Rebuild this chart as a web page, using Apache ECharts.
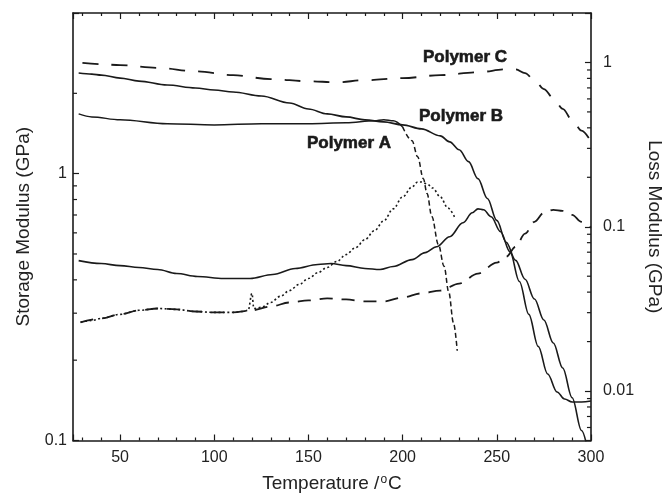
<!DOCTYPE html>
<html><head><meta charset="utf-8">
<script src="https://cdn.jsdelivr.net/npm/echarts@6/dist/echarts.min.js"></script>
<style>html,body{margin:0;padding:0;background:#fff}#c{width:672px;height:498px}</style>
</head><body><div id="c"></div>
<script>
// ---- axes ----
const xRange = [25, 300];
const leftRange = [0.1, 4];
const rightRange = [0.005, 2];
const leftMinorTicks = [0.2, 0.3, 0.4, 0.5, 0.6, 0.7, 0.8, 0.9, 2];
const rightMinorTicks = [0.006, 0.007, 0.008, 0.009, 0.02, 0.03, 0.04, 0.05, 0.06, 0.07, 0.08, 0.09,
                         0.2, 0.3, 0.4, 0.5, 0.6, 0.7, 0.8, 0.9];

// ---- Storage modulus (GPa, left axis) ----
const cStorageT = [30,40,50,70,90,110,130,150,165,180,200,220,240,255,260,265,270,275,280,285,290,295,300];
const cStorage  = [2.60,2.57,2.55,2.49,2.42,2.34,2.26,2.22,2.20,2.24,2.28,2.34,2.40,2.46,2.46,2.38,2.24,2.075,1.92,1.75,1.59,1.45,1.32];

const bStorageT = [28,35,40,50,60,75,90,100,110,125,140,150,160,170,180,190,200,210,220,225,230,235,240,245,250,255,260,265,270,275,280,285,290,295,298];
const bStorage  = [2.382,2.361,2.341,2.281,2.223,2.148,2.094,2.058,2.023,1.954,1.840,1.748,1.675,1.632,1.591,1.563,1.523,1.472,1.386,1.316,1.229,1.109,0.958,0.807,0.668,0.553,0.473,0.402,0.339,0.283,0.232,0.187,0.1447,0.109,0.0942];

const aStorageT = [28,35,50,75,100,125,150,170,185,190,195,200,205,208,211,213,215.5,219,222,224.5,227,229];
const aStorage  = [1.675,1.632,1.591,1.537,1.523,1.537,1.537,1.550,1.577,1.591,1.577,1.497,1.328,1.157,0.958,0.842,0.691,0.543,0.450,0.360,0.276,0.217];
const aStorageSolidUntil = 200; // after this temperature the trace is drawn dashed

// ---- Loss modulus (GPa, right axis) ----
const aLossT = [29,35,40,50,60,70,80,90,100,110,115,118,120,121,125,130,135,140,145,150,155,160,165,170,175,180,185,190,195,200,205,208,210,213,216,220,224,228];
const aLoss  = [0.0262,0.0269,0.0277,0.0293,0.0310,0.0318,0.0314,0.0305,0.0301,0.0301,0.0305,0.0310,0.0393,0.0318,0.0323,0.0346,0.0377,0.0409,0.0445,0.0484,0.0526,0.0565,0.0614,0.0677,0.0746,0.0834,0.0946,0.1087,0.1285,0.152,0.1747,0.1874,0.1874,0.1823,0.172,0.152,0.1303,0.1118];

const bLossT = [28,40,50,60,70,80,91,105,119,131,143,155,162,170,180,188,195,205,212,218,225,232,237,240,243,247,252,257,262,267,272,277,282,286,290,295,300];
const bLoss  = [0.0622,0.0597,0.0580,0.0565,0.0549,0.0519,0.0498,0.0484,0.0484,0.0512,0.0557,0.0589,0.0597,0.0580,0.0557,0.0549,0.0573,0.0631,0.0696,0.0756,0.0870,0.1057,0.1216,0.1285,0.1268,0.115,0.0933,0.0705,0.0464,0.0293,0.0187,0.0127,0.00986,0.00894,0.00858,0.00858,0.00869];

const cLossT = [29,40,50,60,70,80,90,100,110,120,130,140,150,160,170,180,190,200,210,220,230,240,250,255,260,265,270,275,280,285,290,295,300];
const cLoss  = [0.0262,0.0277,0.0293,0.0310,0.0318,0.0314,0.0305,0.0301,0.0301,0.0310,0.0327,0.0346,0.0356,0.0366,0.0361,0.0351,0.0351,0.0371,0.0393,0.0409,0.0451,0.0519,0.0605,0.0658,0.0756,0.0907,0.1072,0.1216,0.1268,0.1250,0.1182,0.1072,0.0986];

// ---- annotation texts ----
const labelTexts = ['Polymer C', 'Polymer B', 'Polymer A'];

const zip = (t, v) => t.map((x, i) => [x, v[i]]);
const INK = '#1a1a1a';
const FONT = '"Liberation Sans", Arial, Helvetica, sans-serif';

const aSolid = zip(aStorageT, aStorage).filter(p => p[0] <= aStorageSolidUntil);
const aDash  = zip(aStorageT, aStorage).filter(p => p[0] >= aStorageSolidUntil);

function lineSeries(data, yAxisIndex, type, width) {
  return {
    type: 'line', data, yAxisIndex, xAxisIndex: 0, showSymbol: false, symbol: 'none',
    smooth: 0.35, smoothMonotone: 'x', silent: true, animation: false,
    lineStyle: { color: INK, width: width || 1.6, type: type || 'solid' }
  };
}
function tickSeries(yAxisIndex, values, xAt, dir) {
  return {
    type: 'custom', xAxisIndex: 0, yAxisIndex, silent: true, animation: false, z: 10, clip: false,
    data: values.map(v => [xAt, v]),
    renderItem(params, api) {
      const p = api.coord([api.value(0), api.value(1)]);
      return { type: 'line', shape: { x1: p[0], y1: p[1], x2: p[0] + dir * 4, y2: p[1] },
               style: { stroke: INK, lineWidth: 1.2 } };
    }
  };
}
const isDecade = v => Math.abs(Math.log10(v) - Math.round(Math.log10(v))) < 1e-6;

const axisCommon = {
  axisLine: { show: true, lineStyle: { color: INK, width: 1.6 } },
  splitLine: { show: false },
  axisTick: { show: true, inside: true, length: 6, lineStyle: { color: INK, width: 1.2 } },
};

const chart = echarts.init(document.getElementById('c'), null, { renderer: 'canvas' });
chart.setOption({
  animation: false,
  backgroundColor: '#fff',
  grid: { left: 73, right: 70, top: 13, bottom: 49, containLabel: false },
  xAxis: [
    Object.assign({}, axisCommon, {
      type: 'value', min: xRange[0], max: xRange[1], position: 'bottom',
      minorTick: { show: true, splitNumber: 5, length: 3, lineStyle: { color: INK, width: 1.2 } },
      axisLabel: { color: '#222', fontSize: 16, fontFamily: FONT, margin: 9,
                   formatter: v => (v % 50 === 0 ? String(v) : '') },
      name: 'Temperature /{sup|o}C', nameLocation: 'middle', nameGap: 33,
      nameTextStyle: { color: '#222', fontSize: 19, fontFamily: FONT,
                       rich: { sup: { fontSize: 12, fontFamily: FONT, color: '#222', verticalAlign: 'top', padding: [0, 1, 8, 1] } } }
    }),
    Object.assign({}, axisCommon, {
      type: 'value', min: xRange[0], max: xRange[1], position: 'top',
      minorTick: { show: true, splitNumber: 5, length: 3, lineStyle: { color: INK, width: 1.2 } },
      axisLabel: { show: false }
    })
  ],
  yAxis: [
    Object.assign({}, axisCommon, {
      type: 'log', logBase: 10, min: leftRange[0], max: leftRange[1], position: 'left',
      axisLabel: { color: '#222', fontSize: 16, fontFamily: FONT, margin: 6,
                   formatter: v => (isDecade(v) ? String(+v.toPrecision(6)) : '') },
      name: 'Storage Modulus (GPa)', nameLocation: 'middle', nameGap: 40, nameRotate: 90,
      nameTextStyle: { color: '#222', fontSize: 19, fontFamily: FONT }
    }),
    Object.assign({}, axisCommon, {
      type: 'log', logBase: 10, min: rightRange[0], max: rightRange[1], position: 'right',
      axisLabel: { color: '#222', fontSize: 16, fontFamily: FONT, margin: 12,
                   formatter: v => (isDecade(v) ? String(+v.toPrecision(6)) : '') },
      name: 'Loss Modulus (GPa)', nameLocation: 'middle', nameGap: 52, nameRotate: -90,
      nameTextStyle: { color: '#222', fontSize: 19, fontFamily: FONT }
    })
  ],
  series: [
    lineSeries(zip(cStorageT, cStorage), 0, [16, 13], 1.8),
    lineSeries(zip(bStorageT, bStorage), 0, 'solid', 1.6),
    lineSeries(aSolid, 0, 'solid', 1.5),
    lineSeries(aDash, 0, [5, 3], 1.5),
    lineSeries(zip(aLossT, aLoss), 1, [2, 2.5], 1.6),
    lineSeries(zip(bLossT, bLoss), 1, 'solid', 1.6),
    lineSeries(zip(cLossT, cLoss), 1, [13, 9], 1.8),
    tickSeries(0, leftMinorTicks, xRange[0], 1),
    tickSeries(1, rightMinorTicks, xRange[1], -1)
  ],
  graphic: [
    { type: 'text', x: 465, y: 57, style: { text: labelTexts[0], fontSize: 17, fontWeight: 'bold', fontFamily: FONT, fill: INK, align: 'center', verticalAlign: 'middle', stroke: INK, lineWidth: 0.6 } },
    { type: 'text', x: 461, y: 116, style: { text: labelTexts[1], fontSize: 17, fontWeight: 'bold', fontFamily: FONT, fill: INK, align: 'center', verticalAlign: 'middle', stroke: INK, lineWidth: 0.6 } },
    { type: 'text', x: 349, y: 143, style: { text: labelTexts[2], fontSize: 17, fontWeight: 'bold', fontFamily: FONT, fill: INK, align: 'center', verticalAlign: 'middle', stroke: INK, lineWidth: 0.6 } }
  ]
});
</script>
</body></html>
